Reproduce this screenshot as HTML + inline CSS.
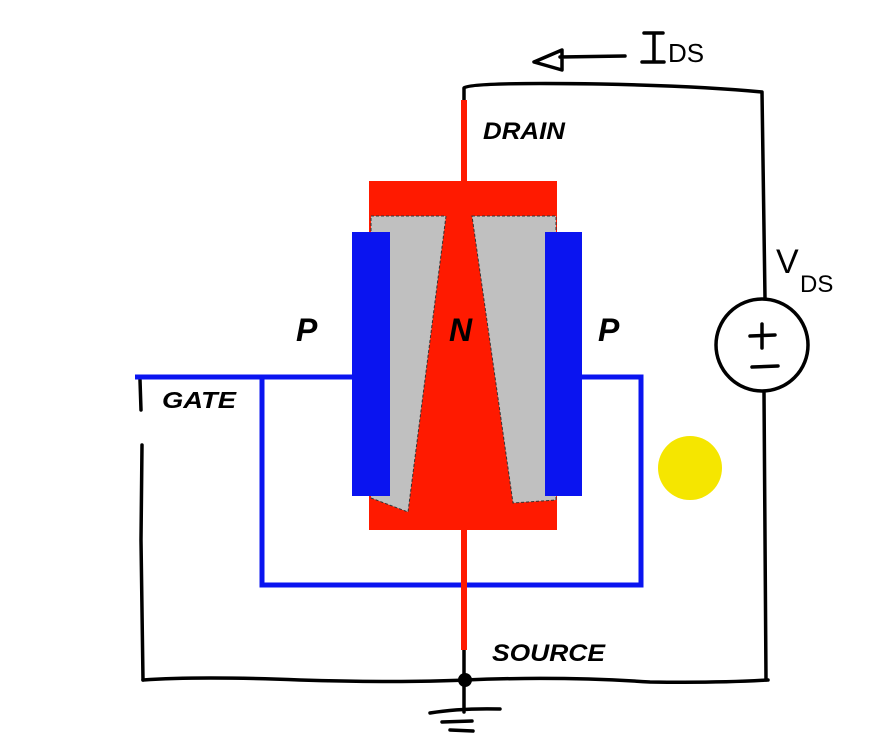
<!DOCTYPE html>
<html><head><style>body{margin:0;background:#fff}svg{display:block}</style></head><body>
<svg width="895" height="755" viewBox="0 0 895 755" xmlns="http://www.w3.org/2000/svg">
<rect width="895" height="755" fill="#fff"/>
<!-- black circuit -->
<g fill="none" stroke="#000" stroke-width="3.5" stroke-linecap="round" stroke-linejoin="round">
<path d="M464,100 L464,88 Q470,82 600,84 Q700,86 762,92 L765,298"/>
<path d="M764,392 L766,680"/>
<path d="M140,380 L141,410 M142,445 L141,540 L143,680"/>
<path d="M143,680 Q200,676 300,680 Q400,683 465,680 Q560,676 650,682 Q720,683 768,680"/>
<path d="M464,650 L464,712"/>
<path d="M430,713 Q460,708 500,709 M442,722 L472,721 M450,730 L473,731"/>
<circle cx="762" cy="345" r="46"/>
<path d="M762,324 L762,348 M750,336 L775,335 M752,367 L778,366"/>
<path d="M625,56 L560,57 M562,50 L534,62 L562,70 Z"/>
<path d="M644,33 L663,33 M654,34 L654,62 M642,62 L664,62"/>
</g>
<circle cx="465" cy="680" r="7" fill="#000"/>
<text x="668" y="62" font-family="Liberation Sans, sans-serif" font-size="26" fill="#000">DS</text>
<text x="776" y="273" font-family="Liberation Sans, sans-serif" font-size="34" fill="#000">V</text>
<text x="800" y="292" font-family="Liberation Sans, sans-serif" font-size="24" fill="#000">DS</text>
<!-- blue gate -->
<g fill="none" stroke="#0a14f0" stroke-width="5">
<path d="M135,377 L352,377 M262,377 L262,585 L641,585 L641,377 L582,377"/>
</g>
<!-- red device -->
<rect x="461" y="100" width="6" height="550" fill="#ff1a00"/>
<rect x="369" y="181" width="188" height="349" fill="#ff1a00"/>
<polygon points="371,216 446,216 408,512 371,498" fill="#c0c0c0" stroke="#333" stroke-width="1" stroke-dasharray="3,2"/>
<polygon points="472,216 556,216 556,500 513,503" fill="#c0c0c0" stroke="#333" stroke-width="1" stroke-dasharray="3,2"/>
<rect x="352" y="232" width="38" height="264" fill="#0a14f0"/>
<rect x="545" y="232" width="37" height="264" fill="#0a14f0"/>
<circle cx="690" cy="468" r="32" fill="#f5e600"/>
<g font-family="Liberation Sans, sans-serif" font-weight="bold" font-style="italic" fill="#000">
<text x="483" y="139" font-size="24" textLength="82" lengthAdjust="spacingAndGlyphs">DRAIN</text>
<text x="296" y="341" font-size="32">P</text>
<text x="449" y="341" font-size="32">N</text>
<text x="598" y="341" font-size="32">P</text>
<text x="162" y="408" font-size="23" textLength="74" lengthAdjust="spacingAndGlyphs">GATE</text>
<text x="492" y="661" font-size="24" textLength="113" lengthAdjust="spacingAndGlyphs">SOURCE</text>
</g>
</svg>
</body></html>
